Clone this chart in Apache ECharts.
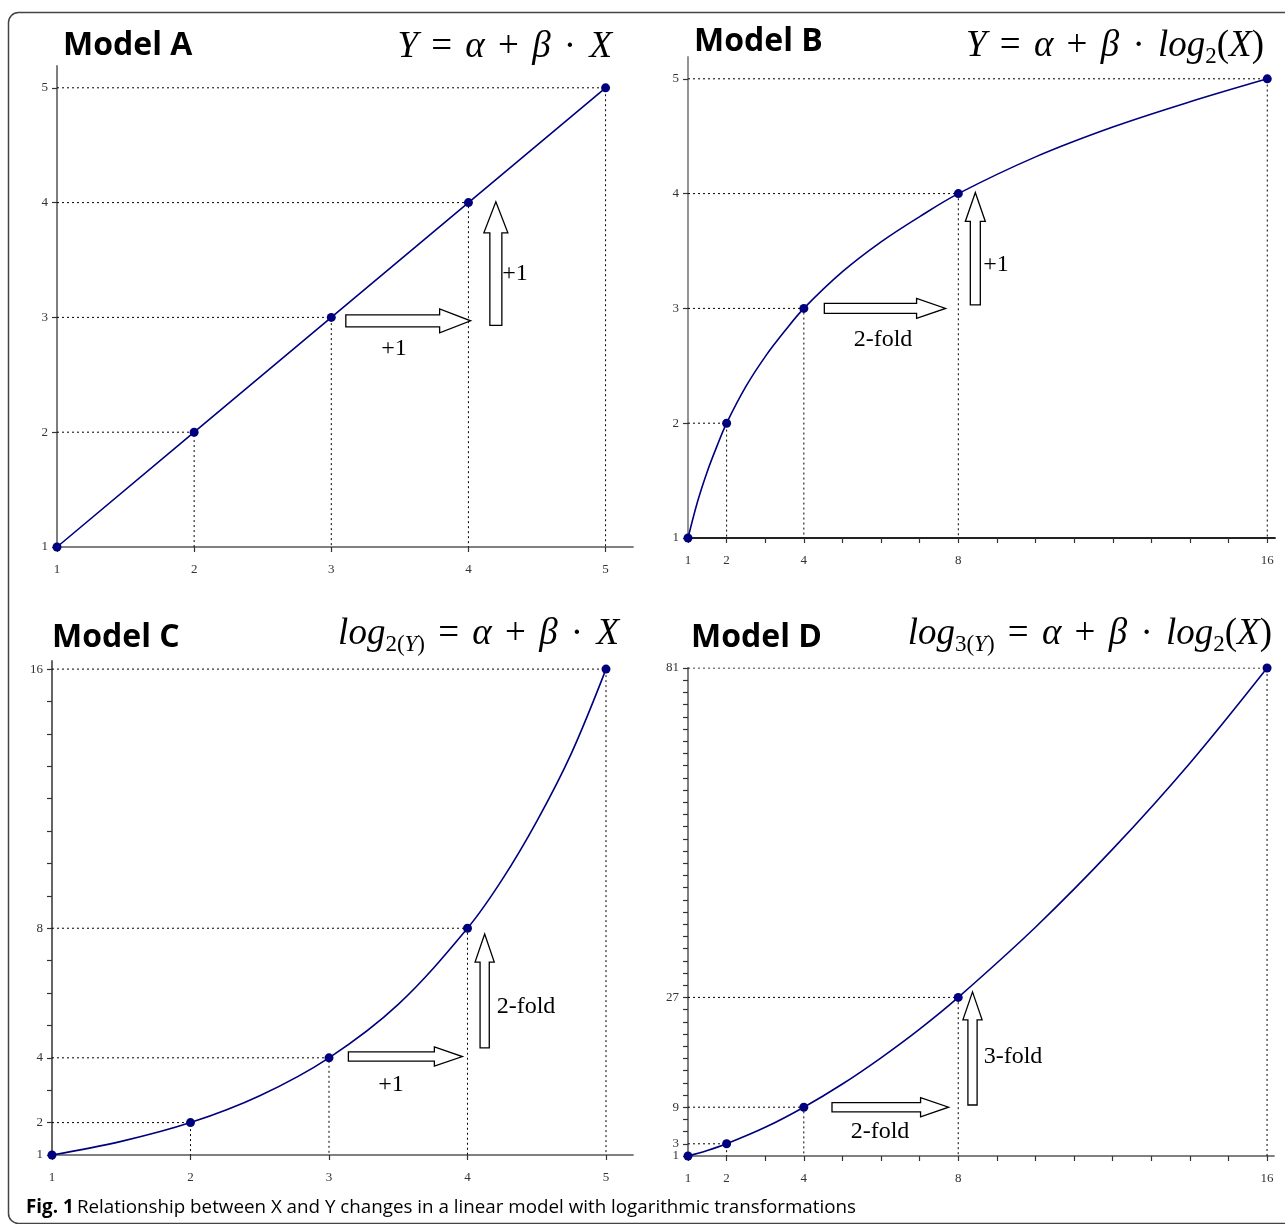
<!DOCTYPE html>
<html>
<head>
<meta charset="utf-8">
<script src="https://cdn.jsdelivr.net/npm/echarts@6/dist/echarts.min.js"></script>
<style>
html, body { margin: 0; padding: 0; background: #fff; }
#main { width: 1285px; height: 1224px; }
</style>
</head>
<body>
<div id="main"></div>
<script>
// Model A: Y = a + b*X
var xA = [1, 2, 3, 4, 5];
var yA = [1, 2, 3, 4, 5];
// Model B: Y = a + b*log2(X)
var xB = [1, 2, 4, 8, 16];
var yB = [1, 2, 3, 4, 5];
var curveBx = [1, 1.25, 1.5, 1.75, 2, 2.5, 3, 3.5, 4, 5, 6, 7, 8, 10, 12, 14, 16];
var curveBy = [1, 1.32, 1.58, 1.8, 2, 2.32, 2.58, 2.8, 3, 3.32, 3.58, 3.8, 4, 4.32, 4.58, 4.8, 5];
// Model C: log2(Y) = a + b*X
var xC = [1, 2, 3, 4, 5];
var yC = [1, 2, 4, 8, 16];
var curveCx = [1, 1.5, 2, 2.5, 3, 3.5, 4, 4.25, 4.5, 4.75, 5];
var curveCy = [1, 1.42, 2, 2.83, 4, 5.65, 8, 9.5, 11.3, 13.4, 16];
// Model D: log3(Y) = a + b*log2(X)
var xD = [1, 2, 4, 8, 16];
var yD = [1, 3, 9, 27, 81];
var curveDx = [1, 1.5, 2, 3, 4, 5, 6, 7, 8, 10, 12, 14, 16];
var curveDy = [1, 1.9, 3, 5.7, 9, 12.8, 17.1, 21.8, 27, 38.5, 51.3, 65.4, 81];

// tick positions / tick labels
var ticksX15 = [1, 2, 3, 4, 5];
var ticksY15 = [1, 2, 3, 4, 5];
var ticksX16 = [1, 2, 3, 4, 5, 6, 7, 8, 9, 10, 11, 12, 13, 14, 15, 16];
var labelsX16 = [1, 2, 4, 8, 16];
var ticksYC = [1, 2, 3, 4, 5, 6, 7, 8, 9, 10, 11, 12, 13, 14, 15, 16];
var labelsYC = [1, 2, 4, 8, 16];
var ticksYD = [1, 3, 5, 7, 9, 11, 13, 15, 17, 19, 21, 23, 25, 27, 29, 31, 33, 35, 37, 39, 41,
    43, 45, 47, 49, 51, 53, 55, 57, 59, 61, 63, 65, 67, 69, 71, 73, 75, 77, 79, 81];
var labelsYD = [1, 3, 9, 27, 81];

var NAVY = '#00007f';
var tickFont = { fontFamily: 'Liberation Serif', fontSize: 13, color: '#333',
    hideOverlap: false, showMinLabel: true, showMaxLabel: true };

function zip(a, b) {
    return a.map(function (v, i) { return [v, b[i]]; });
}

var panels = [
    { grid: { left: 57, top: 66, width: 576, height: 481 }, xMax: 5.2, yMax: 5.19,
      xTicks: ticksX15, xLabels: ticksX15, yTicks: ticksY15, yLabels: ticksY15,
      xs: xA, ys: yA, curve: zip(xA, yA), xColor: '#808080', yColor: '#707070',
      arrows: [[3.106, 2.97, 4.016, 2.97], [4.2, 2.93, 4.2, 4.007]], arrowSize: [6, 12, 31] },
    { grid: { left: 688, top: 57, width: 587, height: 481 }, xMax: 16.2, yMax: 5.19,
      xTicks: ticksX16, xLabels: labelsX16, yTicks: ticksY15, yLabels: ticksY15,
      xs: xB, ys: yB, curve: zip(curveBx, curveBy), xColor: '#222', yColor: '#888',
      arrows: [[4.53, 3.0, 7.67, 3.0], [8.44, 3.03, 8.44, 4.01]], arrowSize: [5, 10, 29] },
    { grid: { left: 52, top: 661, width: 581, height: 494 }, xMax: 5.195, yMax: 16.25,
      xTicks: ticksX15, xLabels: ticksX15, yTicks: ticksYC, yLabels: labelsYC,
      xs: xC, ys: yC, curve: zip(curveCx, curveCy), xColor: '#808080', yColor: '#555',
      arrows: [[3.14, 4.04, 3.963, 4.04], [4.124, 4.31, 4.124, 7.82]], arrowSize: [4.6, 9.6, 28] },
    { grid: { left: 688, top: 668, width: 586, height: 488 }, xMax: 16.18, yMax: 81,
      xTicks: ticksX16, xLabels: labelsX16, yTicks: ticksYD, yLabels: labelsYD,
      xs: xD, ys: yD, curve: zip(curveDx, curveDy), xColor: '#808080', yColor: '#707070',
      arrows: [[4.73, 9.0, 7.75, 9.0], [8.37, 9.36, 8.37, 27.9]], arrowSize: [4.6, 9.6, 28] }
];

function arrowRenderer(size) {
    return function (params, api) {
        var p0 = api.coord([api.value(0), api.value(1)]);
        var p1 = api.coord([api.value(2), api.value(3)]);
        var sw = size[0], hw = size[1], hl = size[2];
        var dx = p1[0] - p0[0], dy = p1[1] - p0[1];
        var len = Math.sqrt(dx * dx + dy * dy);
        var ux = dx / len, uy = dy / len;
        var nx = -uy, ny = ux;
        var bx = p1[0] - ux * hl, by = p1[1] - uy * hl;
        var pts = [
            [p0[0] + nx * sw, p0[1] + ny * sw],
            [bx + nx * sw, by + ny * sw],
            [bx + nx * hw, by + ny * hw],
            [p1[0], p1[1]],
            [bx - nx * hw, by - ny * hw],
            [bx - nx * sw, by - ny * sw],
            [p0[0] - nx * sw, p0[1] - ny * sw]
        ];
        return {
            type: 'polygon',
            shape: { points: pts },
            style: { fill: '#fff', stroke: '#000', lineWidth: 1.3 }
        };
    };
}

var grids = [], xAxes = [], yAxes = [], series = [];
panels.forEach(function (p, i) {
    grids.push(Object.assign({ containLabel: false, outerBoundsMode: 'none' }, p.grid));
    xAxes.push({
        type: 'value', gridIndex: i, min: 1, max: p.xMax,
        axisLine: { onZero: false, lineStyle: { color: p.xColor, width: 1.8 } },
        axisTick: { customValues: p.xTicks, length: 5, lineStyle: { color: '#333', width: 1.2 } },
        axisLabel: Object.assign({ customValues: p.xLabels, margin: 16 }, tickFont),
        splitLine: { show: false }
    });
    // labels closer than a line apart get dropped by the label layout,
    // so every other label goes on its own overlaid axis
    var mainLabels = p.yLabels.filter(function (v, k) { return i !== 3 || k !== 1; });
    yAxes.push({
        type: 'value', gridIndex: i, min: 1, max: p.yMax, position: 'left',
        axisLine: { show: true, onZero: false, lineStyle: { color: p.yColor, width: 1.8 } },
        axisTick: { show: true, customValues: p.yTicks, length: 5, lineStyle: { color: '#333', width: 1.2 } },
        axisLabel: Object.assign({ customValues: mainLabels, margin: 9 }, tickFont),
        splitLine: { show: false }
    });
    // dotted drop lines from each marked point to both axes
    p.xs.forEach(function (x, k) {
        if (k === 0) return;
        var y = p.ys[k];
        series.push({
            type: 'line', xAxisIndex: i, yAxisIndex: i, silent: true, symbol: 'none', z: 1,
            lineStyle: { color: '#000', width: 1, type: [2, 3] },
            data: [[1, y], [x, y], [x, 1]]
        });
    });
    series.push({
        type: 'line', xAxisIndex: i, yAxisIndex: i, silent: true, symbol: 'none', z: 3,
        smooth: i === 0 ? false : 0.35,
        lineStyle: { color: NAVY, width: 1.6 },
        data: p.curve
    });
    series.push({
        type: 'scatter', xAxisIndex: i, yAxisIndex: i, silent: true, z: 4,
        symbolSize: 9, itemStyle: { color: NAVY, opacity: 1 },
        data: zip(p.xs, p.ys)
    });
    series.push({
        type: 'custom', xAxisIndex: i, yAxisIndex: i, silent: true, z: 5,
        renderItem: arrowRenderer(p.arrowSize),
        encode: { x: [0, 2], y: [1, 3] },
        data: p.arrows
    });
});

// extra label-only axis for the "3" on Model D
yAxes.push({
    type: 'value', gridIndex: 3, min: 1, max: panels[3].yMax, position: 'left',
    axisLine: { show: false }, axisTick: { show: false }, splitLine: { show: false },
    axisLabel: Object.assign({ customValues: [labelsYD[1]], margin: 9 }, tickFont)
});

var fRich = {
    v: { fontFamily: 'Liberation Serif', fontStyle: 'italic', fontSize: 37, lineHeight: 44, color: '#000' },
    o: { fontFamily: 'Liberation Serif', fontSize: 37, lineHeight: 44, color: '#000', padding: [0, 4] },
    p: { fontFamily: 'Liberation Serif', fontSize: 37, lineHeight: 44, color: '#000' },
    s: { fontFamily: 'Liberation Serif', fontSize: 23, lineHeight: 22, verticalAlign: 'bottom', color: '#000' },
    si: { fontFamily: 'Liberation Serif', fontStyle: 'italic', fontSize: 23, lineHeight: 22, verticalAlign: 'bottom', color: '#000' }
};

function title(text, x, y) {
    return { type: 'text', z: 10, style: { text: text, x: x, y: y, font: 'bold 32px "Open Sans"', fill: '#000',
        textAlign: 'left', align: 'left', textVerticalAlign: 'middle', verticalAlign: 'middle' } };
}
function formula(text, x, y) {
    return { type: 'text', z: 10, style: { text: text, x: x, y: y, rich: fRich,
        textAlign: 'right', align: 'right', textVerticalAlign: 'middle', verticalAlign: 'middle' } };
}
function note(text, x, y) {
    return { type: 'text', z: 10, style: { text: text, x: x, y: y, font: '24px "Liberation Serif"', fill: '#000',
        textAlign: 'center', align: 'center', textVerticalAlign: 'middle', verticalAlign: 'middle' } };
}

var graphics = [
    { type: 'rect', z: 0, shape: { x: 8.5, y: 12.5, width: 1320, height: 1211, r: 10 },
      style: { fill: 'none', stroke: '#444', lineWidth: 1.5 } },
    title('Model A', 63, 46),
    title('Model B', 694, 42),
    title('Model C', 52, 638),
    title('Model D', 691, 638),
    formula('{v|Y}{o| = }{v|α}{o| + }{v|β}{o| · }{v|X}', 612, 47),
    formula('{v|Y}{o| = }{v|α}{o| + }{v|β}{o| · }{v|log}{s|2}{p|(}{v|X}{p|)}', 1264, 46),
    formula('{v|log}{s|2(}{si|Y}{s|)}{o| = }{v|α}{o| + }{v|β}{o| · }{v|X}', 619, 634),
    formula('{v|log}{s|3(}{si|Y}{s|)}{o| = }{v|α}{o| + }{v|β}{o| · }{v|log}{s|2}{p|(}{v|X}{p|)}', 1272, 634),
    note('+1', 394, 349),
    note('+1', 515, 274),
    note('2-fold', 883, 340),
    note('+1', 996, 265),
    note('+1', 391, 1085),
    note('2-fold', 526, 1007),
    note('2-fold', 880, 1132),
    note('3-fold', 1013, 1057),
    { type: 'text', z: 10, style: {
        text: '{b|Fig. 1} {n|Relationship between X and Y changes in a linear model with logarithmic transformations}',
        x: 26, y: 1208, textVerticalAlign: 'middle', verticalAlign: 'middle',
        rich: {
            b: { fontFamily: 'Open Sans', fontWeight: 'bold', fontSize: 18.8, color: '#222' },
            n: { fontFamily: 'Open Sans', fontSize: 18.8, color: '#444' }
        }
    } }
];

var chart = echarts.init(document.getElementById('main'));
chart.setOption({
    animation: false,
    backgroundColor: '#fff',
    grid: grids,
    xAxis: xAxes,
    yAxis: yAxes,
    series: series,
    graphic: { elements: graphics }
});
</script>
</body>
</html>
